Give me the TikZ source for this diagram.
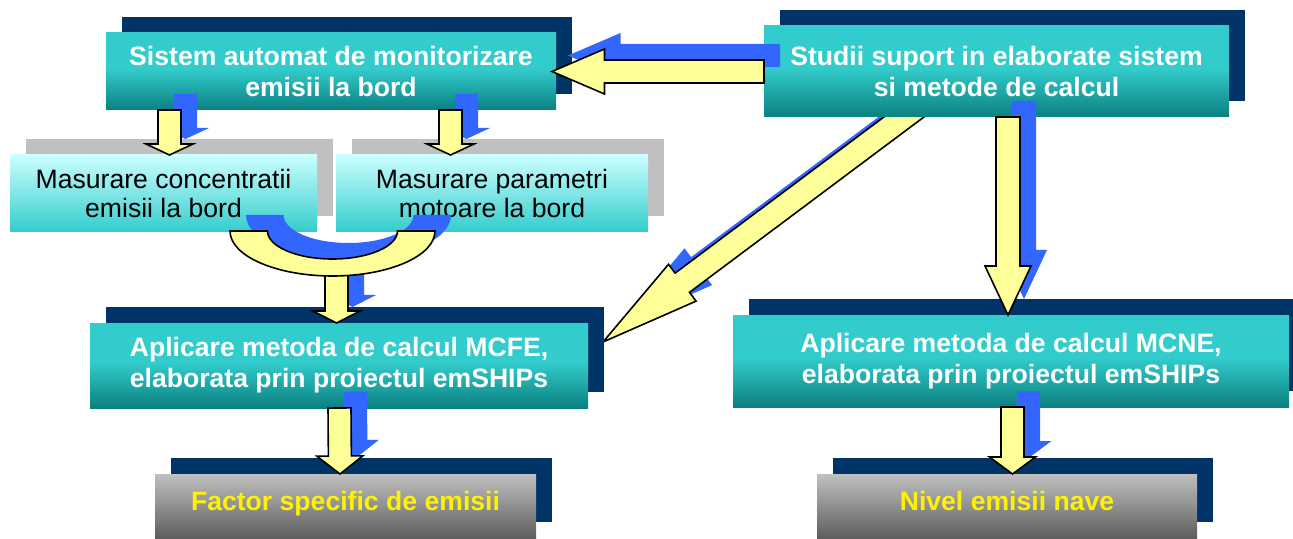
\documentclass[tikz,border=0pt]{standalone}
\usepackage{fontspec}
\setmainfont{Liberation Sans}
\usetikzlibrary{calc,shadows,backgrounds}

\definecolor{navyshade}{HTML}{003366}
\definecolor{tealtop}{HTML}{33CCCC}
\definecolor{tealbot}{HTML}{0B8080}
\definecolor{icetop}{HTML}{CCFFFF}
\definecolor{greytop}{HTML}{C0C0C0}
\definecolor{greybot}{HTML}{5E5E5E}
\definecolor{arrowfill}{HTML}{FFFF99}
\definecolor{arrowblue}{HTML}{3366FF}

\pgfdeclareverticalshading{tealfade}{100bp}{color(0bp)=(tealbot); color(25bp)=(tealbot); color(52bp)=(tealtop); color(100bp)=(tealtop)}

\tikzset{
	tealbox/.style={shade, shading=tealfade, general shadow={fill=navyshade, shadow xshift=8pt, shadow yshift=8pt}, text=white, font=\fontsize{13.3}{15.5}\selectfont\bfseries, align=center, inner sep=0pt, outer sep=0pt},
	icebox/.style={top color=icetop, bottom color=tealtop, general shadow={fill=greytop, shadow xshift=8pt, shadow yshift=8pt}, text=black, font=\fontsize{13.3}{14.5}\selectfont, align=center, inner sep=0pt, outer sep=0pt},
	greybox/.style={top color=greytop, bottom color=greybot, general shadow={fill=navyshade, shadow xshift=8pt, shadow yshift=8pt}, text=yellow, font=\fontsize{13.3}{15.5}\selectfont\bfseries, text height=9.6pt, text depth=5.1pt, inner sep=0pt, outer sep=0pt},
	yellowarrow/.style={fill=arrowfill, draw=black, line width=0.8pt, line join=miter, preaction={fill=arrowblue, draw=none, transform canvas={xshift=8pt, yshift=8pt}}}
}

\newcommand{\blockarrow}[5]{%
	\coordinate (hb) at ($(#2)!#5!(#1)$);
	\draw[yellowarrow] ($(#1)!#3!90:(#2)$) -- ($(hb)!#3!90:(#2)$) -- ($(hb)!#4!90:(#2)$) -- (#2) -- ($(hb)!#4!-90:(#2)$) -- ($(hb)!#3!-90:(#2)$) -- ($(#1)!#3!-90:(#2)$) -- cycle;
}

\begin{document}
\begin{tikzpicture}[x=0.5pt, y=-0.5pt]

		\useasboundingbox (0, 0) rectangle (1293, 539);

		\node[tealbox, minimum width=225pt, minimum height=38.5pt] (A) at (331, 71.5) {Sistem automat de monitorizare\\emisii la bord};
		\node[icebox, minimum width=153.5pt, minimum height=38.5pt] (B) at (163.5, 193.5) {Masurare concentratii\\emisii la bord};
		\node[icebox, minimum width=156pt, minimum height=38.5pt] (C) at (492, 193.5) {Masurare parametri\\motoare la bord};
		\node[tealbox, minimum width=232.5pt, minimum height=45.5pt] (D) at (996.5, 71.5) {Studii suport in elaborate sistem\\si metode de calcul};
		\node[tealbox, minimum width=249pt, minimum height=42.5pt] (E) at (339, 365.5) {Aplicare metoda de calcul MCFE,\\elaborata prin proiectul emSHIPs};
		\node[tealbox, minimum width=278pt, minimum height=46pt] (G) at (1011, 361) {Aplicare metoda de calcul MCNE,\\elaborata prin proiectul emSHIPs};
		\node[greybox, minimum width=190.5pt, minimum height=32pt] (F) at (345.5, 506) {Factor specific de emisii};
		\node[greybox, minimum width=190pt, minimum height=32pt] (H) at (1007, 506) {Nivel emisii nave};

		\coordinate (de0) at ([xshift=-28.25pt, yshift=13.5pt]D.south);
		\coordinate (de1) at ([xshift=7.5pt, yshift=11.75pt]E.east);
		\begin{scope}[on background layer]
			\blockarrow{de0}{de1}{6pt}{11.5pt}{49.5pt}
		\end{scope}

		\coordinate (ab0) at ([xshift=-80.75pt]A.south);
		\coordinate (ab1) at ([xshift=3pt]B.north);
		\blockarrow{ab0}{ab1}{5.75pt}{11.75pt}{5.5pt}

		\coordinate (ac0) at ([xshift=59.75pt]A.south);
		\coordinate (ac1) at ([xshift=-20.75pt]C.north);
		\blockarrow{ac0}{ac1}{5.75pt}{11.75pt}{5.5pt}

		\coordinate (da0) at (D.west);
		\coordinate (da1) at ([xshift=-2pt]A.east);
		\blockarrow{da0}{da1}{5.75pt}{11.25pt}{26.25pt}

		\coordinate (dg0) at ([xshift=5.75pt]D.south);
		\coordinate (dg1) at ([xshift=-1.5pt]G.north);
		\blockarrow{dg0}{dg1}{6pt}{11.5pt}{24.5pt}

		\coordinate (uc) at ($(B.south east)!0.5!(C.south west)+(6, -1)$);
		\coordinate (ue0) at ($(uc)+(4, 40)$);
		\coordinate (ue1) at ([xshift=-1.25pt]E.north);
		\blockarrow{ue0}{ue1}{5.75pt}{11.75pt}{6pt}
		\draw[yellowarrow] ($(uc)+(-102.5, 0)$) arc[start angle=180, end angle=0, x radius=102.5, y radius=45] -- ($(uc)+(65, 0)$) arc[start angle=0, end angle=180, x radius=65, y radius=28] -- cycle;

		\coordinate (ef0) at ([xshift=0.25pt]E.south);
		\coordinate (ef1) at ([xshift=-2.75pt]F.north);
		\blockarrow{ef0}{ef1}{5.75pt}{11.5pt}{9pt}

		\coordinate (gh0) at ([xshift=0.75pt]G.south);
		\coordinate (gh1) at ([xshift=2.75pt]H.north);
		\blockarrow{gh0}{gh1}{5.75pt}{11.5pt}{8.5pt}

\end{tikzpicture}
\end{document}
